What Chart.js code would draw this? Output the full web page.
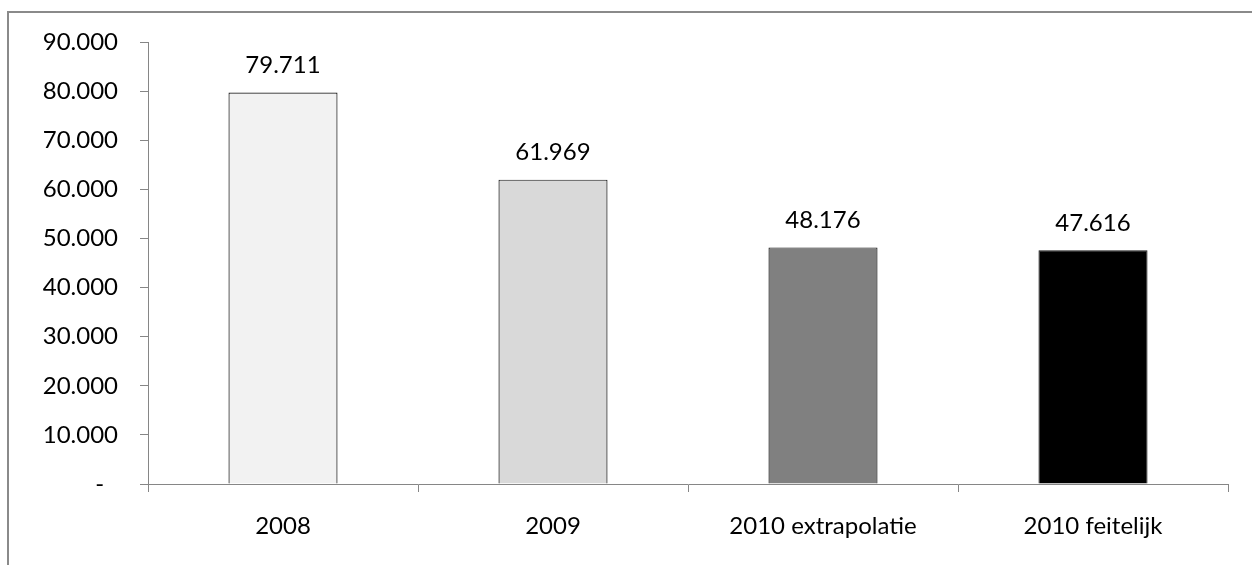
<!DOCTYPE html>
<html>
<head>
<meta charset="utf-8">
<script src="https://cdn.jsdelivr.net/npm/chart.js@4.4.1/dist/chart.umd.min.js"></script>
<style>
  html, body { margin: 0; padding: 0; background: #fff; overflow: hidden; }
  body { width: 1252px; height: 565px; position: relative; }
  .frame {
    position: absolute; left: 7px; top: 11px;
    width: 1400px; height: 700px;
    border: 2px solid #8a8a8a; box-sizing: border-box;
  }
  #wrap { position: absolute; left: 0; top: 0; width: 1252px; height: 565px; }
</style>
</head>
<body>
<div class="frame"></div>
<div id="wrap"><canvas id="chart" width="1252" height="565"></canvas></div>
<script>
// Categories and values
const categories = ['2008', '2009', '2010 extrapolatie', '2010 feitelijk'];
const values = [79711, 61969, 48176, 47616];
const barColors = ['#f2f2f2', '#d9d9d9', '#808080', '#000000'];

// Y axis range
const yMin = 0;
const yMax = 90000;
const yStep = 10000;

const FONT = 'Lato, "DejaVu Sans", sans-serif';
const AXIS = '#868686';

// Dutch thousands separator
function fmt(v) {
  return String(Math.round(v)).replace(/\B(?=(\d{3})+(?!\d))/g, '.');
}

// Value labels centred above each bar
const valueLabels = {
  id: 'valueLabels',
  afterDatasetsDraw(chart) {
    const ctx = chart.ctx;
    const meta = chart.getDatasetMeta(0);
    ctx.save();
    ctx.font = '24px ' + FONT;
    ctx.fillStyle = '#000';
    ctx.textAlign = 'center';
    ctx.textBaseline = 'middle';
    meta.data.forEach((bar, i) => {
      ctx.fillText(fmt(chart.data.datasets[0].data[i]), bar.x, bar.y - 27);
    });
    ctx.restore();
  }
};

new Chart(document.getElementById('chart'), {
  type: 'bar',
  data: {
    labels: categories,
    datasets: [{
      data: values,
      backgroundColor: barColors,
      borderColor: '#1a1a1a',
      borderWidth: 1.2,
      barPercentage: 0.404,
      categoryPercentage: 1.0
    }]
  },
  options: {
    responsive: false,
    animation: false,
    devicePixelRatio: 1,
    layout: { padding: { left: 0, right: 24, top: 42, bottom: 0 } },
    plugins: {
      legend: { display: false },
      tooltip: { enabled: false }
    },
    scales: {
      x: {
        grid: {
          offset: true,
          drawOnChartArea: false,
          drawTicks: true,
          tickLength: 8,
          color: AXIS
        },
        border: { display: true, color: AXIS, width: 1 },
        ticks: {
          color: '#000',
          font: { family: FONT, size: 24 },
          padding: 20,
          maxRotation: 0
        },
        afterFit(scale) { scale.height = 81; }
      },
      y: {
        min: yMin,
        max: yMax,
        grid: {
          drawOnChartArea: false,
          drawTicks: true,
          tickLength: 8,
          color: AXIS
        },
        border: { display: true, color: AXIS, width: 1 },
        ticks: {
          stepSize: yStep,
          color: '#000',
          font: { family: FONT, size: 24 },
          padding: 22,
          callback: (v) => v === 0 ? '-\u2007' : fmt(v)
        },
        afterFit(scale) { scale.width = 148; }
      }
    }
  },
  plugins: [valueLabels]
});
</script>
</body>
</html>
